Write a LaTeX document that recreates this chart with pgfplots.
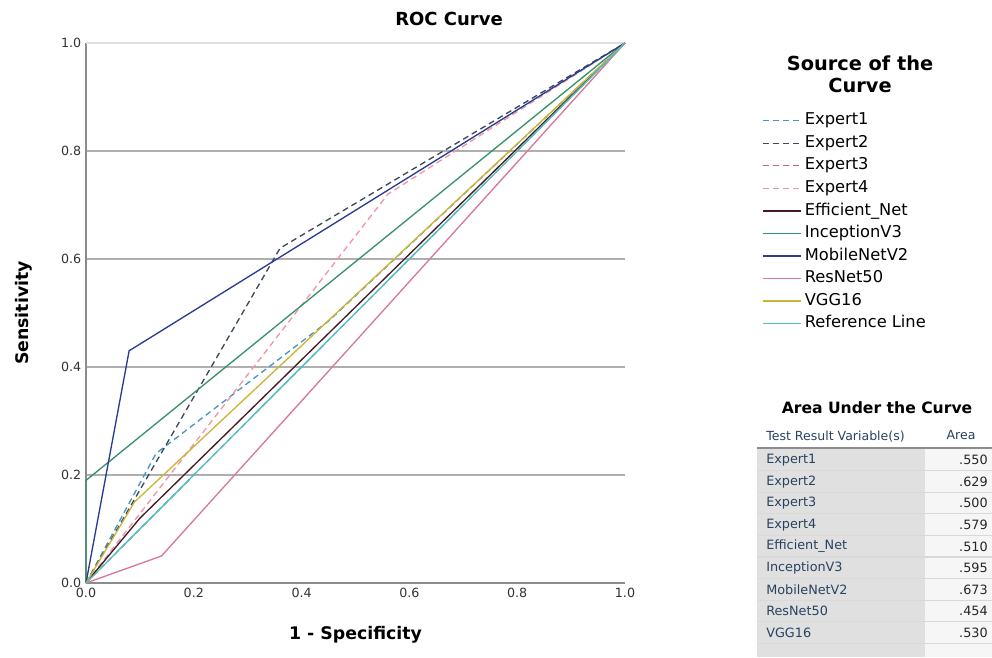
\documentclass[border=0pt]{standalone}
\usepackage{pgfplots}
\pgfplotsset{compat=1.18}
\usepackage{fontspec}
\setmainfont{DejaVu Sans}

\definecolor{cExpA}{RGB}{70,150,190}
\definecolor{cExpB}{RGB}{60,72,92}
\definecolor{cExpC}{RGB}{190,100,125}
\definecolor{cExpD}{RGB}{238,150,165}
\definecolor{cEff}{RGB}{70,25,35}
\definecolor{cInc}{RGB}{55,145,105}
\definecolor{cMob}{RGB}{40,60,145}
\definecolor{cRes}{RGB}{215,120,160}
\definecolor{cVgg}{RGB}{205,180,55}
\definecolor{cRef}{RGB}{75,195,195}
\definecolor{axgray}{RGB}{140,140,140}
\definecolor{gridgray}{RGB}{175,175,175}
\definecolor{tabL}{RGB}{224,224,224}
\definecolor{tabR}{RGB}{246,246,246}
\definecolor{tabtxt}{RGB}{40,66,96}

\tikzset{crv/.style={line width=1pt}, dsh/.style={line width=1pt, dash pattern=on 4.5pt off 3pt}}

\begin{document}
\begin{tikzpicture}
\path[use as bounding box] (0,0) rectangle (744pt,492.75pt);
\begin{axis}[
    at={(64.5pt,55.5pt)}, anchor=south west,
    scale only axis, width=404.25pt, height=405pt,
    xmin=0, xmax=1, ymin=0, ymax=1,
    axis lines=left,
    axis line style={-, draw=axgray, line width=1.5pt},
    xtick={0,0.2,...,1}, ytick={0,0.2,0.4,0.6,0.8},
    extra y ticks={1}, extra y tick style={grid style={gray!25, line width=1pt}},
    ymajorgrids, grid style={gridgray, line width=1pt},
    major tick length=0pt,
    /pgf/number format/.cd, fixed, fixed zerofill, precision=1, assume math mode=true, /pgfplots/.cd,
    tick label style={font=\fontsize{9.5}{11}\selectfont, text=black!80},
    title={ROC Curve},
    title style={at={(axis description cs:0.6735,1.033)}, anchor=base, yshift=-6pt, font=\bfseries\fontsize{13.5}{15}\selectfont},
    xlabel={1 - Specificity},
    ylabel={Sensitivity},
    xlabel style={at={(axis description cs:0.5,-0.096)}, anchor=center, font=\bfseries\fontsize{13}{15}\selectfont},
    ylabel style={at={(axis description cs:-0.116,0.5)}, anchor=center, font=\bfseries\fontsize{13}{15}\selectfont},
    clip=false,
    legend image code/.code={\draw[#1] (0pt,0pt) -- (28.5pt,0pt);},
    legend cell align=left,
    legend style={at={(1.254,0.871)}, anchor=north west, draw=none, fill=none, inner sep=0pt,
        font=\fontsize{12.2}{14}\selectfont, row sep=5.2pt,
        nodes={inner sep=0pt, text height=9pt, text depth=2.7pt},
        /tikz/every odd column/.style={column sep=2.5pt}},
]
\addplot[cExpA, dsh] coordinates {(0,0)(0.13,0.24)(0.45,0.485)(1,1)};
\addlegendentry{Expert1}
\addplot[cExpB, dsh] coordinates {(0,0)(0.36,0.62)(1,1)};
\addlegendentry{Expert2}
\addplot[cExpC, dsh] coordinates {(0,0)(0.5,0.5)(1,1)};
\addlegendentry{Expert3}
\addplot[cExpD, dsh] coordinates {(0,0)(0.56,0.72)(1,1)};
\addlegendentry{Expert4}
\addplot[cEff, crv] coordinates {(0,0)(0.1,0.12)(1,1)};
\addlegendentry{Efficient\_Net}
\addplot[cInc, crv] coordinates {(0,0)(0,0.19)(1,1)};
\addlegendentry{InceptionV3}
\addplot[cMob, crv] coordinates {(0,0)(0.08,0.43)(1,1)};
\addlegendentry{MobileNetV2}
\addplot[cRes, crv] coordinates {(0,0)(0.14,0.05)(1,1)};
\addlegendentry{ResNet50}
\addplot[cVgg, crv] coordinates {(0,0)(0.09,0.15)(1,1)};
\addlegendentry{VGG16}
\addplot[cRef, crv] coordinates {(0,0)(1,1)};
\addlegendentry{Reference Line}
\node[font=\bfseries\fontsize{14.5}{17}\selectfont, align=center] at (axis cs:1.436,0.942) {Source of the\\Curve};
\end{axis}

% area under the curve table, in pixel units of the reference
\begin{scope}[x=0.75pt, y=-0.75pt, shift={(0,492.75pt)}]
\fill[tabL] (757,449) rectangle (925,657);
\fill[tabR] (925,449) rectangle (992,657);
\foreach \k in {1,...,9} \draw[white!70!gray, line width=0.8pt] (757,{449+21.6*\k}) -- (992,{449+21.6*\k});
\draw[axgray, line width=1.4pt] (757,448) -- (992,448);
\node[font=\bfseries\fontsize{11.7}{13}\selectfont] at (877,408) {Area Under the Curve};
\node[anchor=west, text=tabtxt, font=\fontsize{9.4}{11}\selectfont, inner sep=0pt] at (766,437) {Test Result Variable(s)};
\node[text=tabtxt, font=\fontsize{9.4}{11}\selectfont, inner sep=0pt] at (961,435) {Area};
\foreach \n/\v [count=\i from 0] in {Expert1/.550, Expert2/.629, Expert3/.500, Expert4/.579,
    Efficient\_Net/.510, InceptionV3/.595, MobileNetV2/.673, ResNet50/.454, VGG16/.530} {
  \node[anchor=west, text=tabtxt, font=\fontsize{9.6}{11}\selectfont, inner sep=0pt] at (766,{460+21.6*\i}) {\n};
  \node[anchor=east, text=black!85, font=\fontsize{9.6}{11}\selectfont, inner sep=0pt] at (988,{460+21.6*\i}) {\v};
}
\end{scope}
\end{tikzpicture}
\end{document}
